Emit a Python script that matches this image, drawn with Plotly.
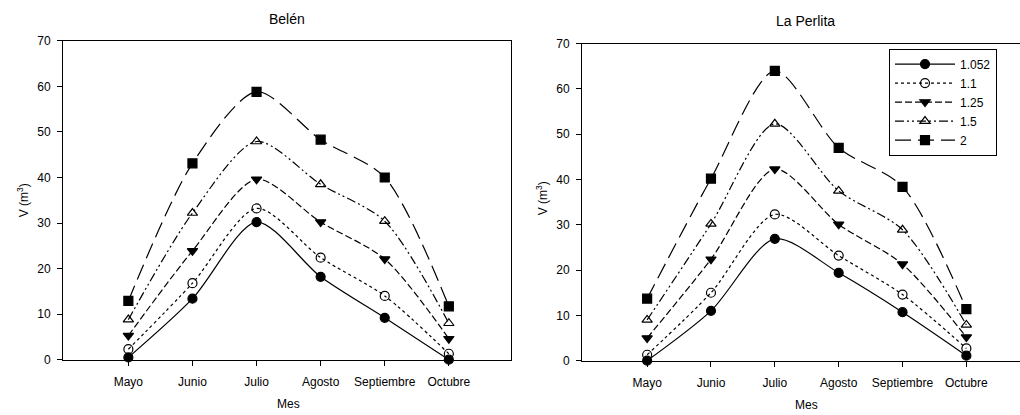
import plotly.graph_objects as go

months = ["Mayo", "Junio", "Julio", "Agosto", "Septiembre", "Octubre"]
series_names = ["1.052", "1.1", "1.25", "1.5", "2"]

belen_1052 = [0.5, 13.4, 30.2, 18.2, 9.2, 0.0]
belen_11 = [2.3, 16.8, 33.2, 22.4, 14.0, 1.3]
belen_125 = [5.3, 23.9, 39.6, 30.2, 22.1, 4.6]
belen_15 = [8.8, 32.2, 47.9, 38.5, 30.4, 8.0]
belen_2 = [12.9, 43.1, 58.8, 48.3, 40.0, 11.7]

perlita_1052 = [0.0, 11.0, 26.9, 19.4, 10.7, 1.1]
perlita_11 = [1.3, 15.0, 32.3, 23.2, 14.6, 2.7]
perlita_125 = [5.0, 22.4, 42.3, 30.1, 21.3, 5.2]
perlita_15 = [9.0, 30.2, 52.3, 37.5, 28.9, 7.9]
perlita_2 = [13.7, 40.2, 64.0, 47.0, 38.4, 11.4]

belen = [belen_1052, belen_11, belen_125, belen_15, belen_2]
perlita = [perlita_1052, perlita_11, perlita_125, perlita_15, perlita_2]

symbols = ["circle", "circle-open", "triangle-down", "triangle-up-open", "square"]
dashes = ["solid", "dot", "7px,3px", "9px,3px,2px,3px,2px,3px", "16px,7px"]
msizes = [9, 9, 9, 9, 9]

FONT = "Liberation Sans, Arial, sans-serif"
W, H = 1020, 415
xpos = list(range(len(months)))

fig = go.Figure()
for i, name in enumerate(series_names):
    for data, xa, ya, show in [(belen, "x", "y", False), (perlita, "x2", "y2", True)]:
        fig.add_trace(go.Scatter(
            x=xpos, y=data[i], name=name, mode="lines+markers",
            xaxis=xa, yaxis=ya, showlegend=show, legendgroup=name,
            line=dict(color="black", width=1.2, dash=dashes[i], shape="spline", smoothing=0.8),
            marker=dict(symbol=symbols[i], size=msizes[i], color="black",
                        line=dict(color="black", width=1.2)),
            cliponaxis=False,
        ))

def px_x(p):
    return p / W

def px_y(p):
    return 1 - p / H

tickfont = dict(family=FONT, size=12, color="black")
common_x = dict(tickvals=xpos, ticktext=months, showline=True, linecolor="black", linewidth=1,
                ticks="outside", ticklen=5, tickcolor="black", showgrid=False, zeroline=False,
                tickfont=tickfont, mirror=True, ticklabelstandoff=6)
common_y = dict(range=[0, 70], tickvals=[0, 10, 20, 30, 40, 50, 60, 70], showline=True,
                linecolor="black", linewidth=1, ticks="outside", ticklen=5, tickcolor="black",
                showgrid=False, zeroline=False, tickfont=tickfont, ticklabelstandoff=4)

def ann(text, x, y, size, angle=0):
    return dict(text=text, x=px_x(x), y=px_y(y), xref="paper", yref="paper",
                xanchor="center", yanchor="middle", showarrow=False, textangle=angle,
                font=dict(size=size, family=FONT, color="black"))

fig.update_layout(
    width=W, height=H, margin=dict(l=0, r=0, t=0, b=0),
    paper_bgcolor="white", plot_bgcolor="white",
    font=dict(family=FONT, color="black"),
    xaxis=dict(domain=[px_x(63), px_x(511)], range=[-1.02, 5.97], anchor="y", **common_x),
    yaxis=dict(domain=[px_y(365), px_y(35)], anchor="x", mirror=True, **common_y),
    xaxis2=dict(domain=[px_x(582), 1.0], range=[-1.02, 5.84], anchor="y2", **common_x),
    yaxis2=dict(domain=[px_y(366), px_y(38)], anchor="x2", mirror=False, **common_y),
    legend=dict(x=px_x(889), y=px_y(43), xanchor="left", yanchor="top",
                bordercolor="black", borderwidth=1, bgcolor="white",
                font=dict(family=FONT, size=12, color="black"),
                itemwidth=60, tracegroupgap=0, traceorder="normal"),
    annotations=[
        ann("Belén", 287, 12, 14),
        ann("La Perlita", 805, 15, 14),
        ann("Mes", 288, 411, 12),
        ann("Mes", 806, 412, 12),
        ann("V (m<sup>3</sup>)", 23, 200, 12, -90),
        ann("V (m<sup>3</sup>)", 542, 198, 12, -90),
    ],
)

fig.write_html("out.html")
